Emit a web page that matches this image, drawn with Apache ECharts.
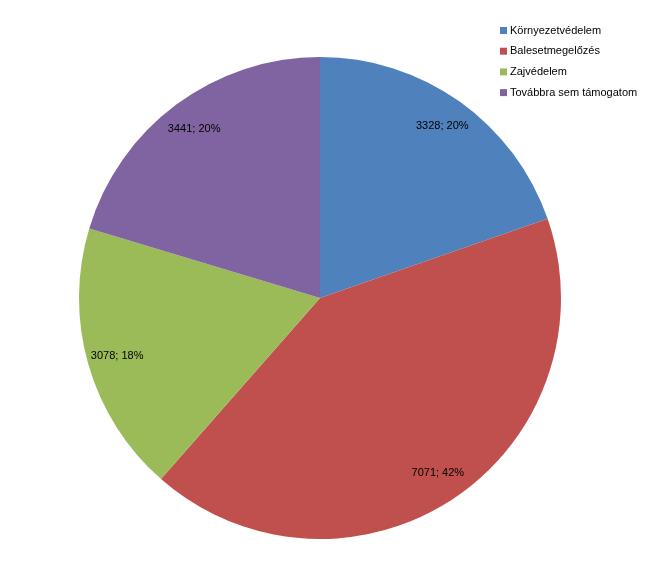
<!DOCTYPE html>
<html>
<head>
<meta charset="utf-8">
<script src="https://cdn.jsdelivr.net/npm/echarts@6/dist/echarts.min.js"></script>
<style>
  html, body { margin: 0; padding: 0; background: #fff; }
  #chart { width: 647px; height: 570px; }
</style>
</head>
<body>
<div id="chart"></div>
<script>
// kategóriák és értékek
const categories = ["Környezetvédelem", "Balesetmegelőzés", "Zajvédelem", "Továbbra sem támogatom"];
const values = [3328, 7071, 3078, 3441];
const colors = ["#4F81BD", "#C0504D", "#9BBB59", "#8064A2"];

const total = values.reduce((a, b) => a + b, 0);
const pieData = categories.map((name, i) => ({ name, value: values[i] }));

const chart = echarts.init(document.getElementById("chart"));
chart.setOption({
  animation: false,
  color: colors,
  textStyle: { fontFamily: "Liberation Sans, Arial, sans-serif" },
  legend: {
    orient: "vertical",
    left: 495,
    top: 20,
    icon: "rect",
    itemWidth: 7,
    itemHeight: 7,
    itemGap: 9.7,
    textStyle: { fontSize: 11, color: "#000", padding: [0, 0, 0, -2] },
    data: categories,
  },
  series: [
    {
      // a tényleges torta
      type: "pie",
      center: [320, 298],
      radius: [0, 241],
      startAngle: 90,
      clockwise: true,
      silent: true,
      label: { show: false },
      labelLine: { show: false },
      data: pieData,
    },
    {
      // csak a feliratok, a szélhez közel
      type: "pie",
      center: [320, 298],
      radius: [175, 241],
      startAngle: 90,
      clockwise: true,
      silent: true,
      itemStyle: { color: "transparent" },
      label: {
        show: true,
        position: "inside",
        fontSize: 11,
        color: "#000",
        formatter: (p) => p.value + "; " + Math.round((p.value / total) * 100) + "%",
      },
      labelLine: { show: false },
      legendHoverLink: false,
      data: pieData,
    },
  ],
});
</script>
</body>
</html>
